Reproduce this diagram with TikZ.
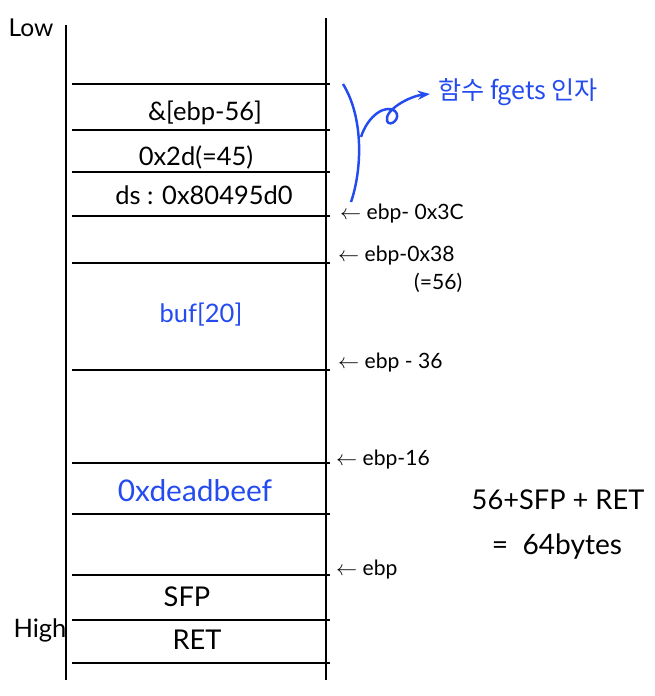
\documentclass[tikz,border=0pt]{standalone}
\usepackage{fontspec}
\setmainfont{Lato}
\newfontfamily\kofont{Noto Sans CJK KR}
\usetikzlibrary{arrows.meta}
\definecolor{penblue}{RGB}{35,75,240}

\begin{document}
\begin{tikzpicture}[x=0.02cm,y=-0.02cm,
  wall/.style={black,line width=1.4pt},
  slot/.style={black,line width=1.1pt},
  cell/.style={font=\fontsize{14.5}{16}\selectfont},
  note/.style={font=\fontsize{12}{14}\selectfont,anchor=west},
  pen/.style={penblue,line width=1.4pt}]

\useasboundingbox (0,0) rectangle (655,696);

% stack walls
\draw[wall] (66,25) -- (66,680);
\draw[wall] (326,18) -- (326,680);
\foreach \y in {84,130,172,216,263,370,463,514,575,620,663}
  \draw[slot] (72,\y) -- (330,\y);

\node[font=\fontsize{14}{16}\selectfont] (low) at (31,28) {Low};
\node[font=\fontsize{14.5}{16}\selectfont] (high) at (40,630) {High};

% cells
\node[cell] (addr) at (205,113) {\&[ebp-56]};
\node[cell] (size) at (196,157) {0x2d(=45)};
\node[cell] (ds) at (204,195) {ds : 0x80495d0};
\node[cell,text=penblue] (buf) at (201,315) {buf[20]};
\node[font=\fontsize{17}{19}\selectfont,text=penblue] (dead) at (195,491) {0xdeadbeef};
\node[cell,font=\fontsize{15.5}{17}\selectfont] (sfp) at (187,597) {SFP};
\node[cell,font=\fontsize{15.5}{17}\selectfont] (ret) at (197,640) {RET};

% offsets
\node[note] (off3c) at (334,214) {$\leftarrow$ ebp- 0x3C};
\node[note] (off38) at (332,256) {$\leftarrow$ ebp-0x38};
\node[note] (eq56) at (408,283) {(=56)};
\node[note] (off36) at (332,363) {$\leftarrow$ ebp - 36};
\node[note] (off16) at (330,460) {$\leftarrow$ ebp-16};
\node[note] (offebp) at (330,570) {$\leftarrow$ ebp};

% fgets arguments
\draw[pen] (343,84) .. controls (364,118) and (362,170) .. (351,202);
\draw[pen,-{Stealth[length=7pt]}] (361,137) .. controls (368,115) and (386,104) .. (395,111)
  .. controls (402,118) and (390,128) .. (387,121)
  .. controls (384,110) and (410,96) .. (430,94);
\node[font=\kofont\fontsize{14.3}{17}\selectfont,text=penblue,anchor=west] (fgets) at (432,92) {함수 fgets 인자};

\node[font=\fontsize{15.5}{17}\selectfont] (sum) at (558,500) {56+SFP + RET};
\node[font=\fontsize{16}{18}\selectfont] (total) at (557,547) {=\ \ 64bytes};

\end{tikzpicture}
\end{document}
